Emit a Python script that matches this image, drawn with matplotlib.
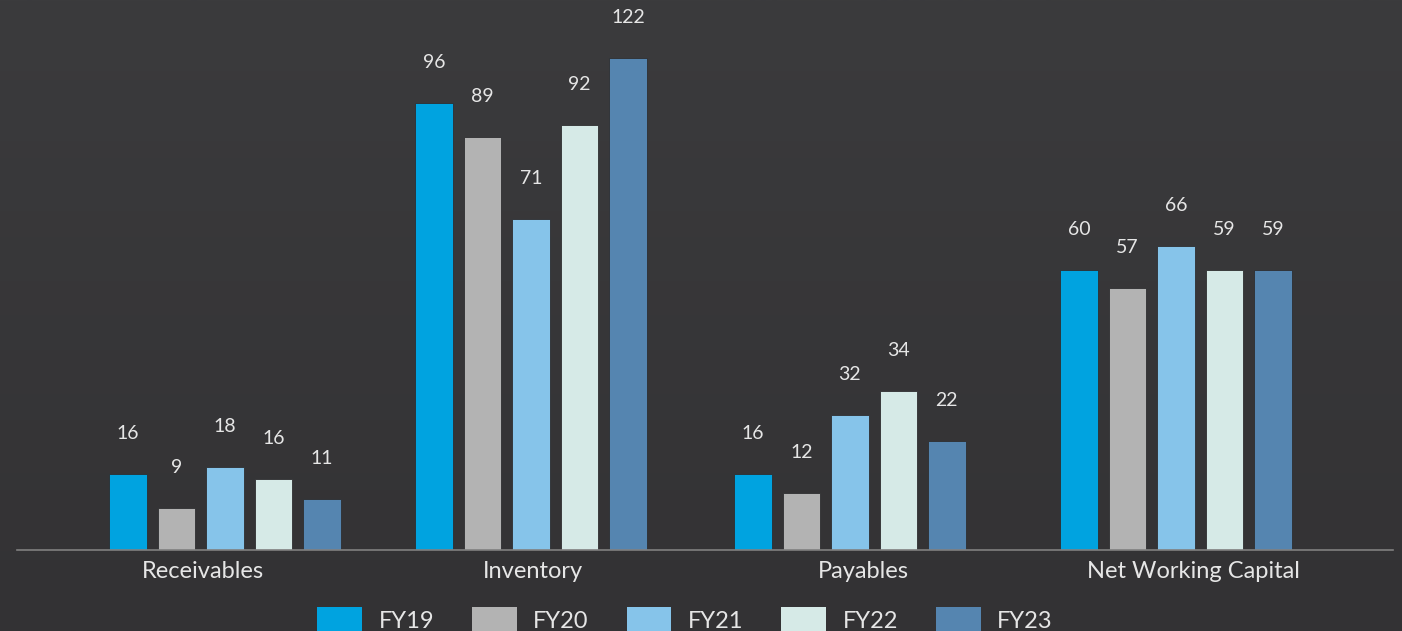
import numpy as np
import matplotlib
matplotlib.use("Agg")
import matplotlib.pyplot as plt
from matplotlib.patches import Patch

plt.rcParams['font.family'] = ['Lato', 'DejaVu Sans']

# data
categories = ['Receivables', 'Inventory', 'Payables', 'Net Working Capital']
years = ['FY19', 'FY20', 'FY21', 'FY22', 'FY23']

# printed value labels
fy19_lbl = [16, 96, 16, 60]
fy20_lbl = [9, 89, 12, 57]
fy21_lbl = [18, 71, 32, 66]
fy22_lbl = [16, 92, 34, 59]
fy23_lbl = [11, 122, 22, 59]

# bar heights as drawn in the source (not always equal to the label)
fy19_bar = [16.3, 96.1, 16.3, 60.2]
fy20_bar = [9.0, 88.8, 12.3, 56.3]
fy21_bar = [17.8, 71.2, 29.0, 65.4]
fy22_bar = [15.3, 91.4, 34.2, 60.2]
fy23_bar = [11.0, 105.8, 23.4, 60.2]

colors = ['#00a3e0', '#b3b3b3', '#86c4ea', '#d6eae7', '#5585b0']
bg = '#363537'
txt = '#e6e6e6'

# layout
W, H, DPI = 1402, 631, 100
group_shift = [0.067, -0.006, -0.040, -0.052]   # bar groups sit a bit off the tick
step = 0.147
width = 0.1136


def main():
    fig = plt.figure(figsize=(W / DPI, H / DPI), dpi=DPI)
    fig.patch.set_facecolor(bg)

    # soft vertical gradient behind everything
    bga = fig.add_axes([0, 0, 1, 1], zorder=-10)
    grad = np.linspace(0, 1, 256).reshape(-1, 1)
    top = np.array([0x3b, 0x3b, 0x3d]) / 255
    bot = np.array([0x33, 0x32, 0x34]) / 255
    img = top[None, None, :] * (1 - grad[:, :, None]) + bot[None, None, :] * grad[:, :, None]
    bga.imshow(img, aspect='auto', extent=[0, 1, 0, 1])
    bga.axis('off')

    x0, x1 = 17, 1393
    base = 550
    ax = fig.add_axes([x0 / W, (H - base) / H, (x1 - x0) / W, base / H])
    ax.set_facecolor('none')

    bars = [fy19_bar, fy20_bar, fy21_bar, fy22_bar, fy23_bar]
    lbls = [fy19_lbl, fy20_lbl, fy21_lbl, fy22_lbl, fy23_lbl]
    idx = np.arange(len(categories))
    centers = idx + np.array(group_shift)

    for j, (b, l) in enumerate(zip(bars, lbls)):
        xs = centers + (j - 2) * step
        ax.bar(xs, b, width=width, color=colors[j], edgecolor='#2e2e30',
               linewidth=0.6, zorder=2)
        for xx, hh, vv in zip(xs, b, l):
            ax.annotate(str(vv), (xx, hh), xytext=(0, 29), textcoords='offset points',
                        ha='center', va='center', color=txt, fontsize=14)

    ax.set_xlim((x0 - 203) / 330, (x1 - 203) / 330)
    ax.set_ylim(0, base / 4.65)
    ax.set_xticks(idx)
    ax.set_xticklabels(categories, color=txt, fontsize=17)
    ax.tick_params(axis='x', length=0, pad=8)
    ax.set_yticks([])
    for s in ['top', 'right', 'left']:
        ax.spines[s].set_visible(False)
    ax.spines['bottom'].set_color('#808080')
    ax.spines['bottom'].set_linewidth(1.2)

    handles = [Patch(facecolor=c, edgecolor='none') for c in colors]
    fig.legend(handles, years, loc='center', bbox_to_anchor=(0.4886, 0.017),
               ncol=5, frameon=False, fontsize=17, labelcolor=txt,
               handlelength=1.9, handleheight=1.3, handletextpad=0.7,
               columnspacing=1.6, borderpad=0)

    fig.savefig('out.png', dpi=DPI, facecolor=fig.get_facecolor())


if __name__ == '__main__':
    main()
